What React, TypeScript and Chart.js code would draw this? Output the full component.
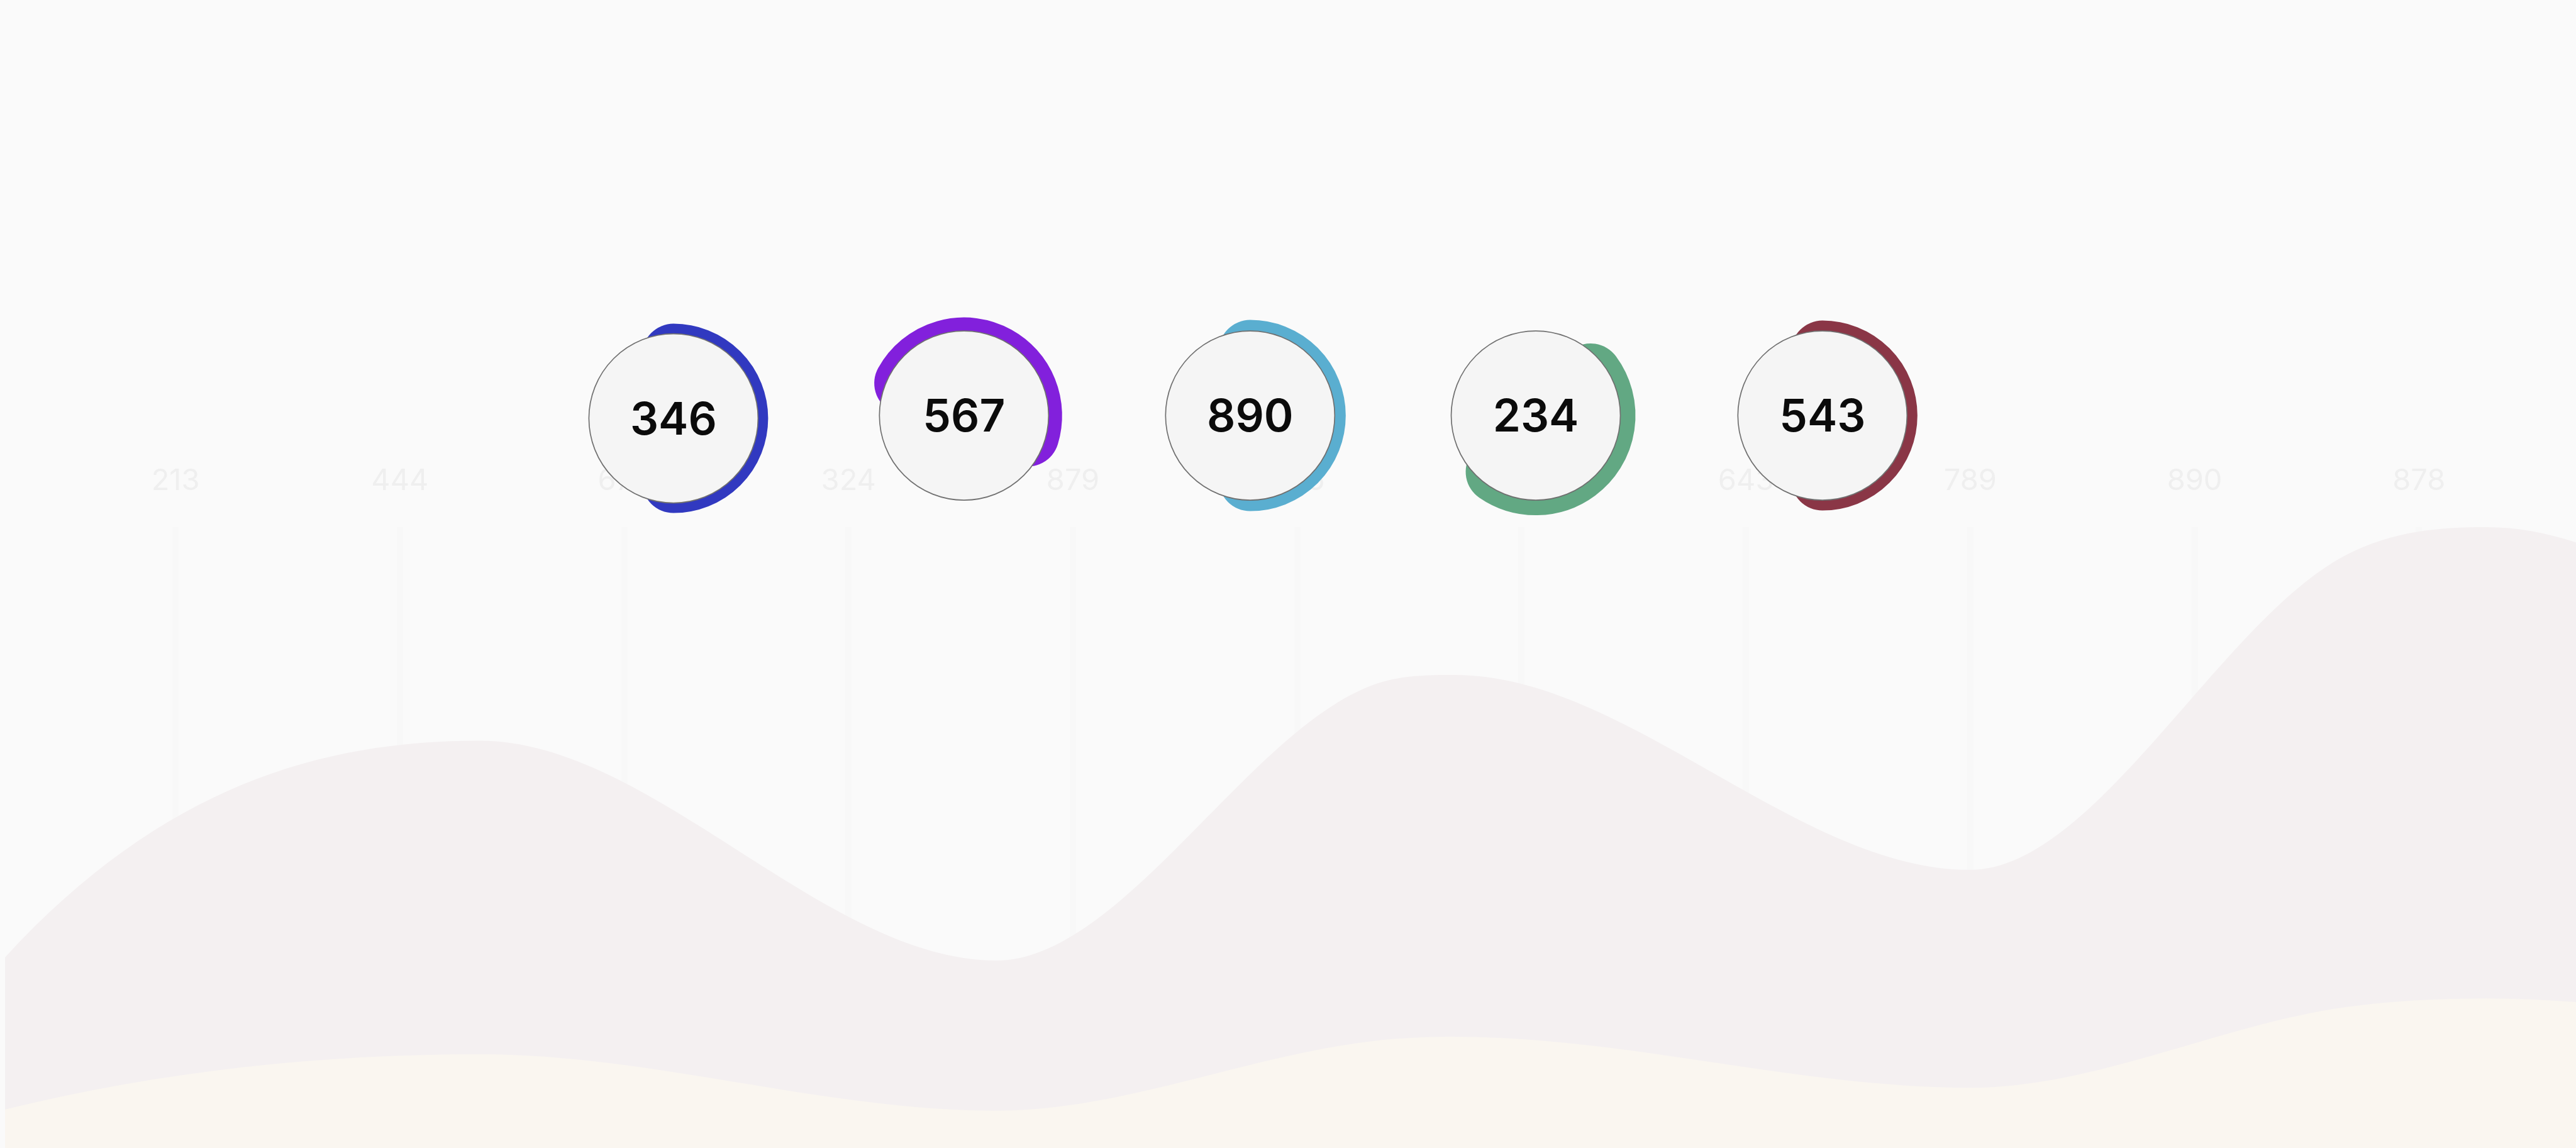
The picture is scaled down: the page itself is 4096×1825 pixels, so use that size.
import React, { useEffect, useRef } from 'react';
import { Chart, registerables } from 'chart.js';

Chart.register(...registerables);

// ---- data ----
const axisLabels = ['213', '444', '678', '324', '879', '345', '567', '643', '789', '890', '878'];

// positions along the background wave axis (0..100 across the plot)
const waveX = [-4, 0, 18.47, 38.57, 53.15, 56.4, 76.43, 91.05, 96.51, 116];
const upperWave = [23, 307, 656, 302, 745, 762, 448, 955, 1000, 580];
const lowerWave = [0, 62, 151, 60, 172, 179, 97, 227, 241, 138];

const badgeValues = [346, 567, 890, 234, 543];
const badgeX = [26.0, 37.3, 48.43, 59.54, 70.69];
const badgeColors = ['#3139c0', '#8220dc', '#5aaed0', '#62a883', '#8a3646'];
const badgeArcStart = [-90, -151, -90, -36.5, -90];
const badgeArcEnd = [90, 17, 90, 124.5, 90];

// ---- styles ----
const W = 4096;
const H = 1825;
const BG = '#fafafa';
const FONT = 'Inter, "Open Sans", sans-serif';
const badgeRingRadius = [150.5, 156, 152, 158.5, 151];
const badgeYShift = [4.5, 0, 0, 0, 0];
const RING_WIDTH = 100;
const BADGE_R = 134.5;
const BADGE_RISE = 177.4;
const PLOT_TOP = 838;

const rad = (d: number) => (d * Math.PI) / 180;

const badgePlugin = {
  id: 'badges',
  afterDraw(chart: any) {
    const ctx = chart.ctx as CanvasRenderingContext2D;
    const xs = chart.scales.xa;
    const top = chart.chartArea.top;
    badgeValues.forEach((v, i) => {
      const cx = xs.getPixelForValue(badgeX[i]);
      const cy = top - BADGE_RISE + badgeYShift[i];
      const ro = badgeRingRadius[i];
      ctx.save();
      ctx.beginPath();
      ctx.arc(cx, cy, ro - RING_WIDTH / 2, rad(badgeArcStart[i]), rad(badgeArcEnd[i]));
      ctx.lineWidth = RING_WIDTH;
      ctx.lineCap = 'round';
      ctx.strokeStyle = badgeColors[i];
      ctx.stroke();

      ctx.beginPath();
      ctx.arc(cx, cy, BADGE_R, 0, Math.PI * 2);
      ctx.fillStyle = '#f5f5f5';
      ctx.fill();
      ctx.lineWidth = 1.7;
      ctx.strokeStyle = '#707070';
      ctx.stroke();

      ctx.font = `600 71px ${FONT}`;
      ctx.fillStyle = '#0b0b0b';
      ctx.textAlign = 'center';
      ctx.textBaseline = 'alphabetic';
      ctx.fillText(String(v), cx, cy + 25.5);
      ctx.restore();
    });
  },
};

export default function App() {
  const ref = useRef<HTMLCanvasElement | null>(null);

  useEffect(() => {
    const canvas = ref.current;
    if (!canvas) return;
    const chart = new Chart(canvas, {
      type: 'line',
      data: {
        datasets: [
          {
            label: 'lower',
            data: waveX.map((x, i) => ({ x, y: lowerWave[i] })),
            backgroundColor: '#faf6f0',
            borderWidth: 0,
            pointRadius: 0,
            fill: 'origin',
            cubicInterpolationMode: 'monotone',
            xAxisID: 'xa',
            yAxisID: 'y',
          },
          {
            label: 'upper',
            data: waveX.map((x, i) => ({ x, y: upperWave[i] })),
            backgroundColor: '#f4f0f1',
            borderWidth: 0,
            pointRadius: 0,
            fill: 'origin',
            cubicInterpolationMode: 'monotone',
            xAxisID: 'xa',
            yAxisID: 'y',
          },
        ],
      },
      options: {
        animation: false,
        responsive: false,
        devicePixelRatio: 1,
        layout: { padding: { left: 8, right: 0, top: 0, bottom: 0 } },
        plugins: { legend: { display: false }, tooltip: { enabled: false } },
        elements: { line: { capBezierPoints: false } },
        scales: {
          x: {
            type: 'linear',
            position: 'top',
            min: -0.76,
            max: 10.7,
            afterBuildTicks: (s: any) => {
              s.ticks = axisLabels.map((_, i) => ({ value: i }));
            },
            afterFit: (s: any) => {
              s.height = PLOT_TOP;
            },
            grid: { color: '#f8f8f8', lineWidth: 10, drawTicks: false },
            border: { display: false },
            ticks: {
              autoSkip: false,
              maxRotation: 0,
              padding: 45,
              color: '#efefef',
              font: { family: FONT, size: 47 },
              callback: (v: any) => axisLabels[v] ?? '',
            },
          },
          xa: { type: 'linear', display: false, min: 0, max: 100 },
          y: { type: 'linear', display: false, min: 0, max: 1000 },
        },
      },
      plugins: [badgePlugin],
    });
    return () => chart.destroy();
  }, []);

  return (
    <div
      style={{
        position: 'fixed',
        left: 0,
        top: 0,
        width: W,
        height: H,
        background: BG,
        overflow: 'hidden',
      }}
    >
      <canvas ref={ref} width={W} height={H} style={{ display: 'block', width: W, height: H }} />
    </div>
  );
}
